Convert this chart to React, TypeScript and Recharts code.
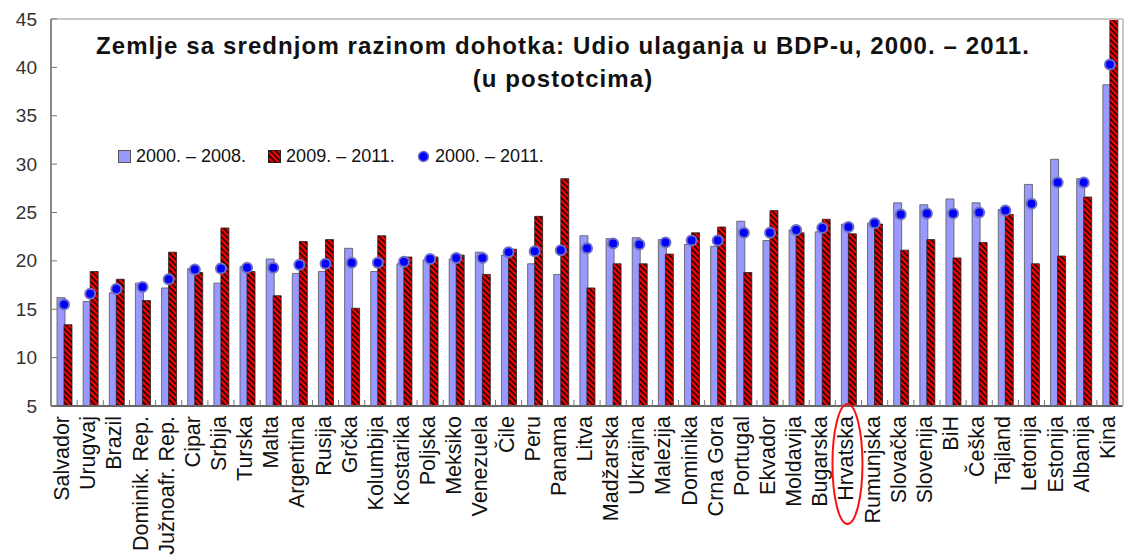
import {
  ComposedChart,
  Bar,
  Line,
  XAxis,
  YAxis,
  Legend,
  ReferenceLine,
} from "recharts";

const countries = [
  "Salvador", "Urugvaj", "Brazil", "Dominik. Rep.", "Južnoafr. Rep.", "Cipar", "Srbija",
  "Turska", "Malta", "Argentina", "Rusija", "Grčka", "Kolumbija", "Kostarika", "Poljska",
  "Meksiko", "Venezuela", "Čile", "Peru", "Panama", "Litva", "Madžarska", "Ukrajina",
  "Malezija", "Dominika", "Crna Gora", "Portugal", "Ekvador", "Moldavija", "Bugarska",
  "Hrvatska", "Rumunjska", "Slovačka", "Slovenija", "BiH", "Češka", "Tajland", "Letonija",
  "Estonija", "Albanija", "Kina",
];

const share2000to2008 = [
  16.2, 15.8, 16.7, 17.7, 17.2, 19.2, 17.7, 19.4, 20.2, 18.7, 18.9, 21.3, 18.9, 19.7,
  20.1, 20.2, 20.9, 20.6, 19.7, 18.6, 22.6, 22.3, 22.4, 22.2, 21.7, 21.5, 24.1, 22.1,
  23.2, 23.0, 23.8, 23.9, 26.0, 25.8, 26.4, 26.0, 25.3, 27.9, 30.5, 28.5, 38.2,
];

const share2009to2011 = [
  13.4, 18.9, 18.1, 15.9, 20.9, 18.8, 23.4, 18.9, 16.4, 22.0, 22.2, 15.1, 22.6, 20.4,
  20.4, 20.6, 18.6, 21.2, 24.6, 28.5, 17.2, 19.7, 19.7, 20.7, 22.9, 23.5, 18.8, 25.2,
  22.9, 24.3, 22.8, 23.8, 21.1, 22.2, 20.3, 21.9, 24.8, 19.7, 20.5, 26.6, 45.5,
];

const share2000to2011 = [
  15.5, 16.6, 17.1, 17.3, 18.1, 19.1, 19.2, 19.3, 19.3, 19.6, 19.7, 19.8, 19.8, 19.9,
  20.2, 20.3, 20.3, 20.9, 21.0, 21.1, 21.3, 21.8, 21.7, 21.9, 22.1, 22.1, 22.9, 22.9,
  23.2, 23.4, 23.5, 23.9, 24.8, 24.9, 24.9, 25.0, 25.2, 25.9, 28.1, 28.1, 40.3,
];

const yTicks = [5, 10, 15, 20, 25, 30, 35, 40, 45];

const data = countries.map((name, i) => ({
  name,
  a: share2000to2008[i],
  b: share2009to2011[i],
  c: share2000to2011[i],
}));

const FONT = "'Liberation Sans', Arial, sans-serif";
// half of one category band: (plot width 1072) / 41 / 2
const HALF_BAND = 1072 / 41 / 2;
const X_TICK_MARGIN = 10;

function StripeDefs({ id }: { id: string }) {
  return (
    <defs>
      <pattern
        id={id}
        patternUnits="userSpaceOnUse"
        width="4"
        height="4"
        patternTransform="rotate(-45)"
      >
        <rect width="4" height="4" fill="#ff0000" />
        <line x1="0" y1="0" x2="0" y2="4" stroke="#000" strokeWidth="3" />
      </pattern>
    </defs>
  );
}

const YTick = (props: any) => {
  const { x, y, payload } = props;
  return (
    <g>
      <text
        x={x}
        y={y}
        textAnchor="end"
        dominantBaseline="central"
        fontSize={19}
        fontFamily={FONT}
        fill="#333"
      >
        {payload.value}
      </text>
      <line x1={x + 14} y1={y} x2={x + 20} y2={y} stroke="#777" />
    </g>
  );
};

const XTick = (props: any) => {
  const { x, y, payload, index } = props;
  const axisY = y - X_TICK_MARGIN;
  return (
    <g>
      {index < countries.length - 1 && (
        <line
          x1={x + HALF_BAND}
          y1={axisY}
          x2={x + HALF_BAND}
          y2={axisY - 6}
          stroke="#777"
        />
      )}
      <text
        x={x - 2}
        y={y}
        transform={`rotate(-90, ${x - 2}, ${y})`}
        textAnchor="end"
        dominantBaseline="central"
        fontSize={21.5}
        fontFamily={FONT}
        fill="#111"
      >
        {payload.value}
      </text>
      {payload.value === "Hrvatska" && (
        <ellipse
          cx={x - 1}
          cy={y + 48}
          rx={15}
          ry={60}
          fill="none"
          stroke="#ff1010"
          strokeWidth={2}
        />
      )}
    </g>
  );
};

const legendItems = [
  { label: "2000. – 2008.", kind: "blue" },
  { label: "2009. – 2011.", kind: "red" },
  { label: "2000. – 2011.", kind: "dot" },
];

const renderLegend = () => (
  <div style={{ display: "flex", gap: 22, fontFamily: FONT, fontSize: 18, color: "#111" }}>
    {legendItems.map((it) => (
      <div key={it.label} style={{ display: "flex", alignItems: "center", gap: 5 }}>
        <svg width={13} height={13}>
          <StripeDefs id="legendStripes" />
          {it.kind === "blue" && (
            <rect x={0.5} y={0.5} width={12} height={12} fill="#9999ff" stroke="#555" />
          )}
          {it.kind === "red" && (
            <rect x={0.5} y={0.5} width={12} height={12} fill="url(#legendStripes)" stroke="#222" />
          )}
          {it.kind === "dot" && (
            <circle cx={6.5} cy={6.5} r={5} fill="#0000ff" stroke="#7070c0" strokeWidth={1.5} />
          )}
        </svg>
        <span>{it.label}</span>
      </div>
    ))}
  </div>
);

export default function App() {
  return (
    <div
      style={{
        position: "absolute",
        left: 0,
        top: 0,
        width: 1126,
        height: 560,
        background: "#fff",
      }}
    >
      <div
        style={{
          position: "absolute",
          left: 0,
          width: 1126,
          top: 29,
          textAlign: "center",
          fontFamily: FONT,
          fontWeight: "bold",
          fontSize: 24,
          letterSpacing: 1.1,
          lineHeight: "33px",
          color: "#111",
          zIndex: 2,
          pointerEvents: "none",
        }}
      >
        <div>Zemlje sa srednjom razinom dohotka: Udio ulaganja u BDP-u, 2000. – 2011.</div>
        <div>(u postotcima)</div>
      </div>
      <ComposedChart
        width={1126}
        height={560}
        data={data}
        margin={{ top: 19, right: 0, bottom: 0, left: 0 }}
        barSize={8}
        barGap={-1}
      >
        <StripeDefs id="redStripes" />
        <XAxis
          dataKey="name"
          interval={0}
          height={154}
          tickLine={false}
          tickSize={0}
          tickMargin={X_TICK_MARGIN}
          tick={<XTick />}
          axisLine={{ stroke: "#666", strokeWidth: 2 }}
        />
        <YAxis
          yAxisId="left"
          domain={[5, 45]}
          ticks={yTicks}
          allowDataOverflow
          width={51}
          tickLine={false}
          tickMargin={8}
          tick={<YTick />}
          axisLine={{ stroke: "#888", strokeWidth: 2 }}
        />
        <YAxis
          yAxisId="right"
          orientation="right"
          domain={[5, 45]}
          width={3}
          tick={false}
          tickLine={false}
          axisLine={{ stroke: "#c8c8c8", strokeWidth: 2 }}
        />
        <ReferenceLine yAxisId="left" y={45} stroke="#c8c8c8" strokeWidth={2} />
        <Legend
          layout="vertical"
          align="center"
          verticalAlign="middle"
          content={renderLegend}
          wrapperStyle={{ top: 146, left: 118, width: "auto" }}
        />
        <Bar
          yAxisId="left"
          dataKey="a"
          name="2000. – 2008."
          fill="#9999ff"
          stroke="#555"
          strokeWidth={0.8}
          isAnimationActive={false}
        />
        <Bar
          yAxisId="left"
          dataKey="b"
          name="2009. – 2011."
          fill="url(#redStripes)"
          stroke="#222"
          strokeWidth={0.8}
          isAnimationActive={false}
        />
        <Line
          yAxisId="left"
          dataKey="c"
          name="2000. – 2011."
          stroke="none"
          dot={{ r: 5, fill: "#0000ff", stroke: "#7070c0", strokeWidth: 2 }}
          activeDot={false}
          isAnimationActive={false}
        />
      </ComposedChart>
    </div>
  );
}
